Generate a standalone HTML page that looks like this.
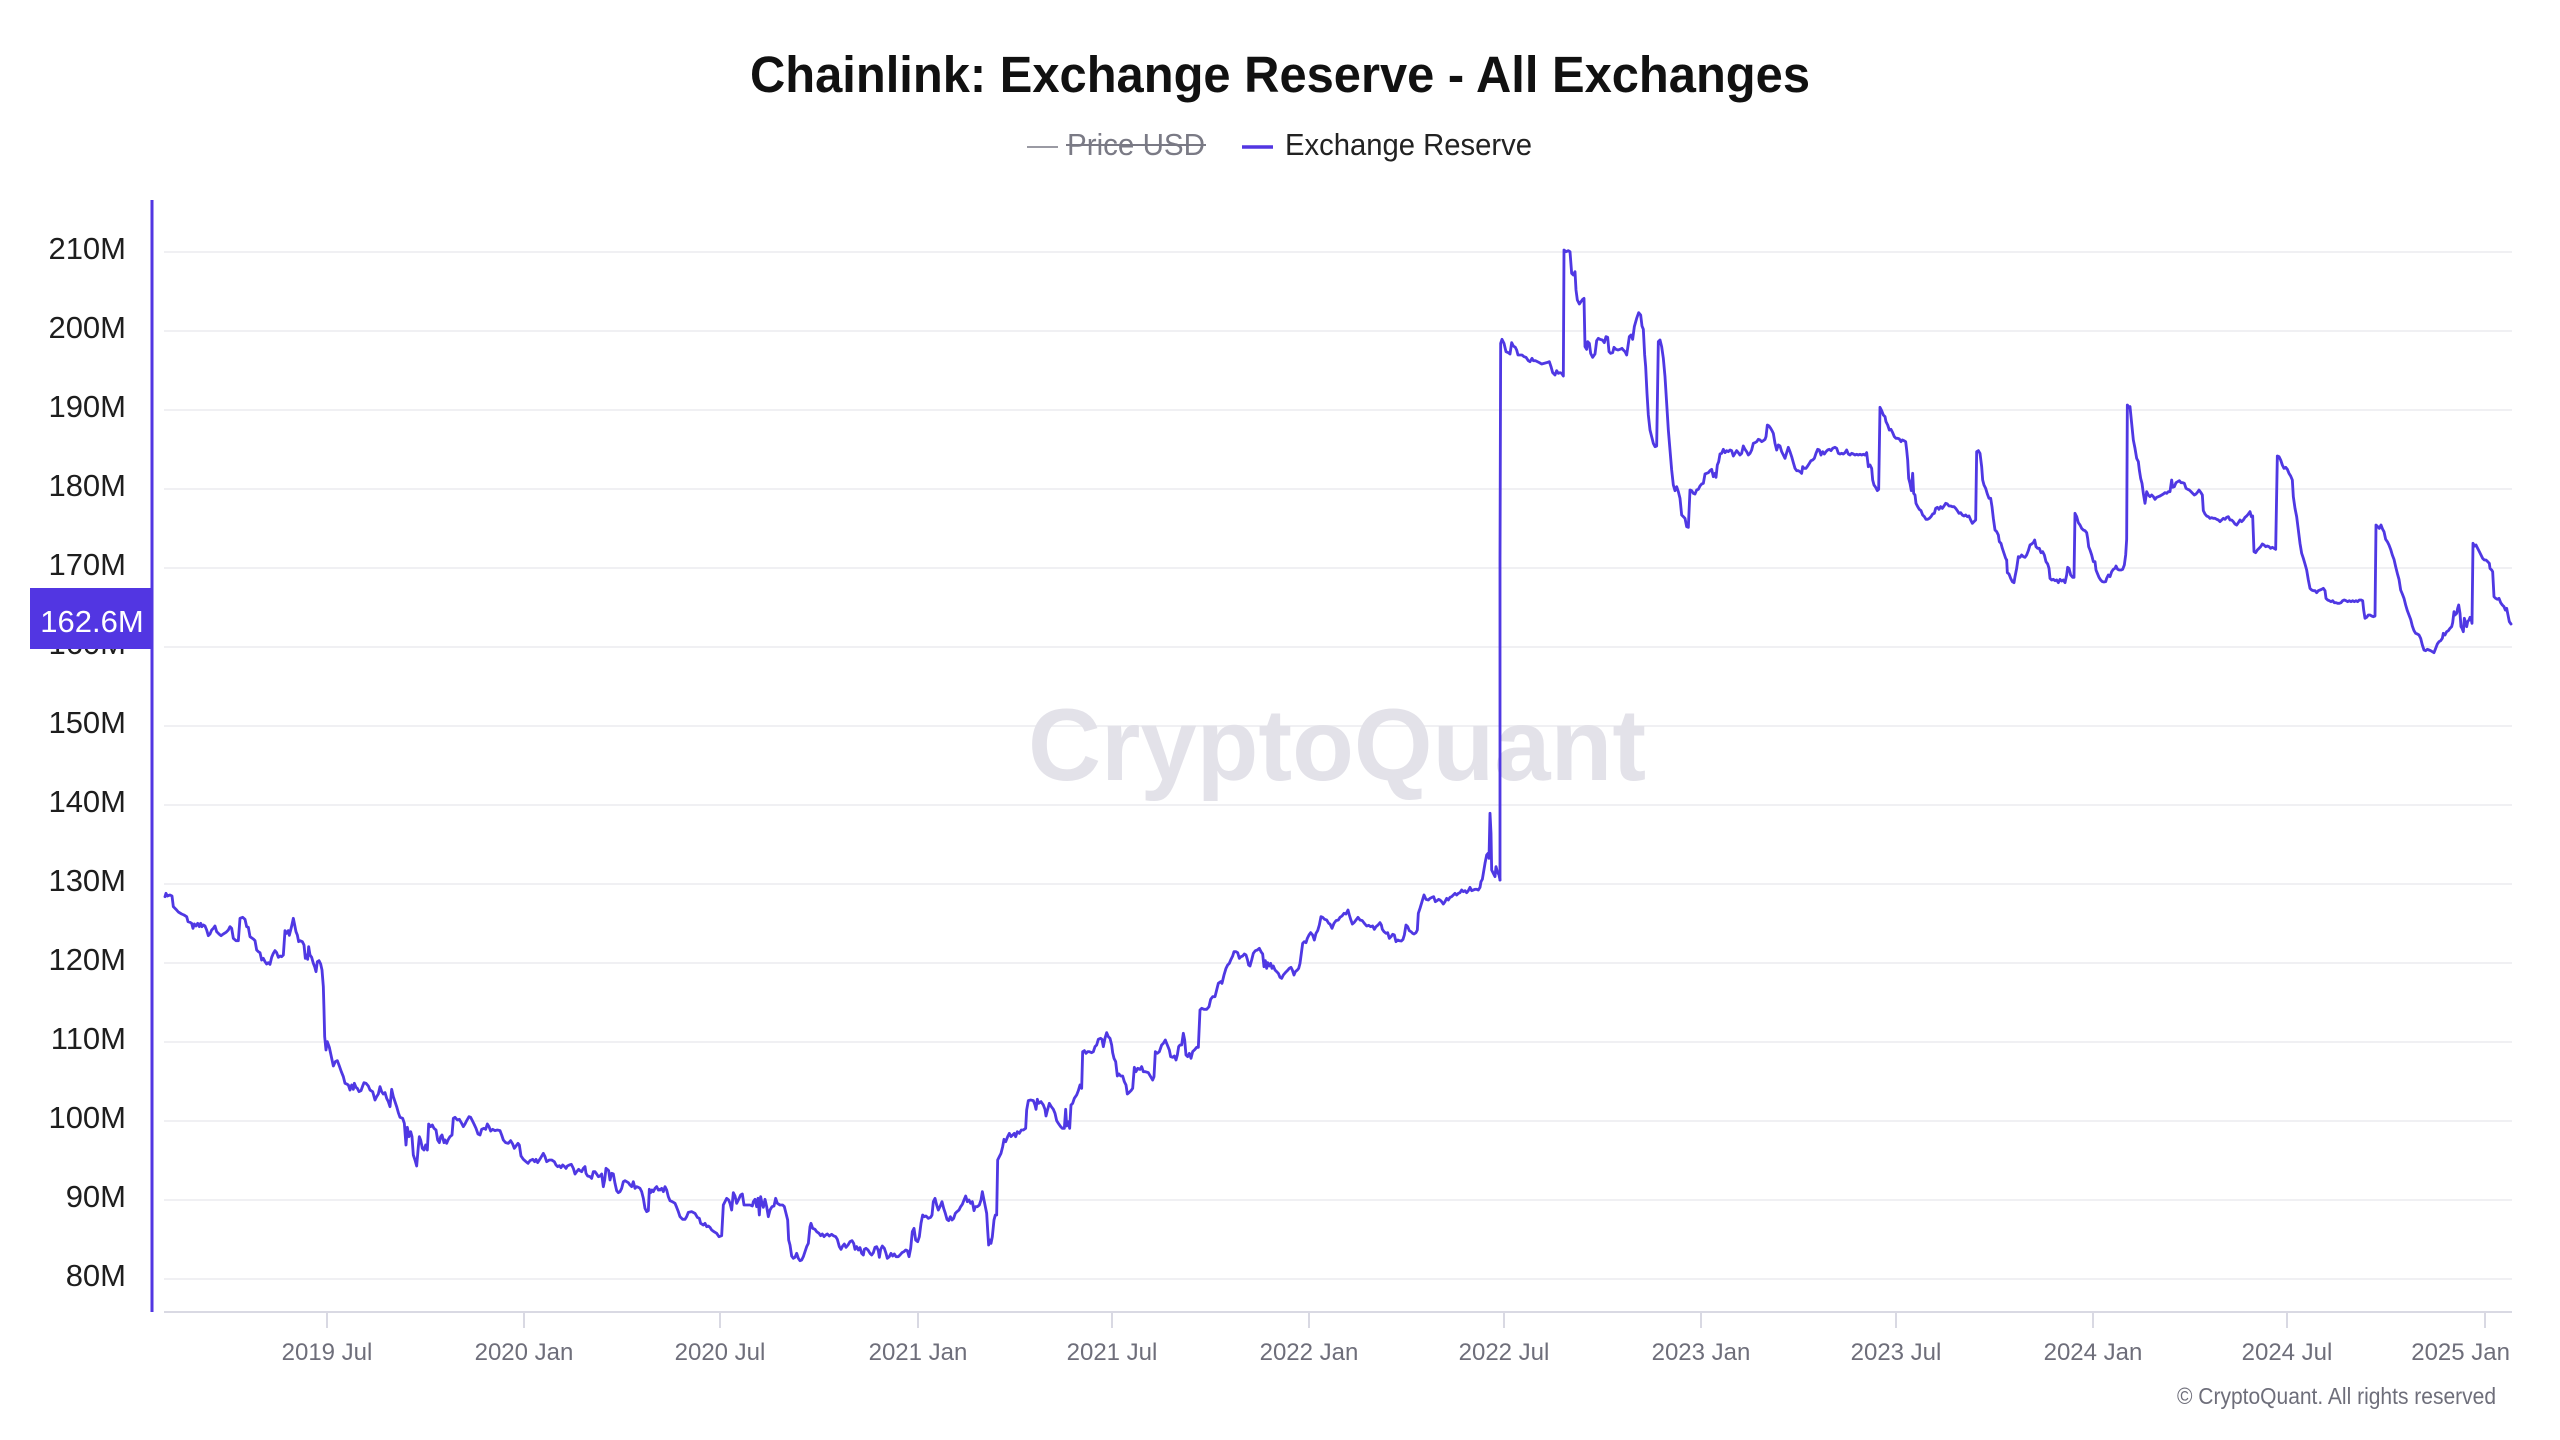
<!DOCTYPE html>
<html><head><meta charset="utf-8"><style>
html,body{margin:0;padding:0;background:#fff;}
svg{display:block;}
</style></head><body>
<svg width="2560" height="1440" viewBox="0 0 2560 1440" xmlns="http://www.w3.org/2000/svg" font-family="'Liberation Sans', 'DejaVu Sans', sans-serif">
<rect width="2560" height="1440" fill="#fff"/>
<!-- title -->
<text x="750" y="92" font-size="51" font-weight="bold" fill="#111" textLength="1060" lengthAdjust="spacingAndGlyphs">Chainlink: Exchange Reserve - All Exchanges</text>
<!-- legend -->
<line x1="1027" y1="147" x2="1058" y2="147" stroke="#9a9aa3" stroke-width="2"/>
<text x="1067" y="155" font-size="31" fill="#7a7a85" textLength="138" lengthAdjust="spacingAndGlyphs">Price USD</text>
<line x1="1066" y1="145" x2="1206" y2="145" stroke="#7a7a85" stroke-width="2"/>
<line x1="1242" y1="147" x2="1273" y2="147" stroke="#5236e2" stroke-width="3.5"/>
<text x="1285" y="155" font-size="31" fill="#222" textLength="247" lengthAdjust="spacingAndGlyphs">Exchange Reserve</text>
<!-- gridlines -->
<g stroke="#f0f0f3" stroke-width="2">
<line x1="164" y1="252" x2="2512" y2="252"/>
<line x1="164" y1="331" x2="2512" y2="331"/>
<line x1="164" y1="410" x2="2512" y2="410"/>
<line x1="164" y1="489" x2="2512" y2="489"/>
<line x1="164" y1="568" x2="2512" y2="568"/>
<line x1="164" y1="647" x2="2512" y2="647"/>
<line x1="164" y1="726" x2="2512" y2="726"/>
<line x1="164" y1="805" x2="2512" y2="805"/>
<line x1="164" y1="884" x2="2512" y2="884"/>
<line x1="164" y1="963" x2="2512" y2="963"/>
<line x1="164" y1="1042" x2="2512" y2="1042"/>
<line x1="164" y1="1121" x2="2512" y2="1121"/>
<line x1="164" y1="1200" x2="2512" y2="1200"/>
<line x1="164" y1="1279" x2="2512" y2="1279"/>
</g>
<!-- watermark -->
<text x="1028" y="780" font-size="102" font-weight="bold" fill="#e3e2e9" textLength="618" lengthAdjust="spacingAndGlyphs">CryptoQuant</text>
<!-- y labels -->
<g font-size="31" fill="#1e1e1e" text-anchor="end">
<text x="126" y="259">210M</text>
<text x="126" y="338">200M</text>
<text x="126" y="417">190M</text>
<text x="126" y="496">180M</text>
<text x="126" y="575">170M</text>
<text x="126" y="654">160M</text>
<text x="126" y="733">150M</text>
<text x="126" y="812">140M</text>
<text x="126" y="891">130M</text>
<text x="126" y="970">120M</text>
<text x="126" y="1049">110M</text>
<text x="126" y="1128">100M</text>
<text x="126" y="1207">90M</text>
<text x="126" y="1286">80M</text>
</g>
<!-- x axis -->
<line x1="164" y1="1312" x2="2512" y2="1312" stroke="#d9d9e3" stroke-width="2"/>
<g stroke="#d9d9e3" stroke-width="2">
<line x1="327" y1="1312" x2="327" y2="1328"/>
<line x1="524" y1="1312" x2="524" y2="1328"/>
<line x1="720" y1="1312" x2="720" y2="1328"/>
<line x1="918" y1="1312" x2="918" y2="1328"/>
<line x1="1112" y1="1312" x2="1112" y2="1328"/>
<line x1="1309" y1="1312" x2="1309" y2="1328"/>
<line x1="1504" y1="1312" x2="1504" y2="1328"/>
<line x1="1701" y1="1312" x2="1701" y2="1328"/>
<line x1="1896" y1="1312" x2="1896" y2="1328"/>
<line x1="2093" y1="1312" x2="2093" y2="1328"/>
<line x1="2287" y1="1312" x2="2287" y2="1328"/>
<line x1="2485" y1="1312" x2="2485" y2="1328"/>
</g>
<g font-size="24" fill="#6e6e7a" text-anchor="middle">
<text x="327" y="1360">2019 Jul</text>
<text x="524" y="1360">2020 Jan</text>
<text x="720" y="1360">2020 Jul</text>
<text x="918" y="1360">2021 Jan</text>
<text x="1112" y="1360">2021 Jul</text>
<text x="1309" y="1360">2022 Jan</text>
<text x="1504" y="1360">2022 Jul</text>
<text x="1701" y="1360">2023 Jan</text>
<text x="1896" y="1360">2023 Jul</text>
<text x="2093" y="1360">2024 Jan</text>
<text x="2287" y="1360">2024 Jul</text>
<text x="2510" y="1360" text-anchor="end">2025 Jan</text>
</g>
<text x="2177" y="1404" font-size="23" fill="#6e6e7a" textLength="319" lengthAdjust="spacingAndGlyphs">© CryptoQuant. All rights reserved</text>
<!-- series -->
<g fill="none" stroke="#4f38e3" stroke-width="8.5" stroke-linejoin="round" stroke-linecap="round">
<polyline transform="translate(160,870) scale(0.333333)" points="15,80 18,70 22,78 30,75 36,78 40,110 48,118 55,126 65,132 72,135 80,140 84,155 90,157 95,160 99,175 103,162 108,168 113,160 118,170 122,160 126,170 130,165 135,168 140,180 145,197 150,192 155,180 160,175 165,168 170,185 177,192 183,197 190,192 198,187 205,180 210,170 215,175 220,205 228,212 235,212 240,145 248,142 255,148 260,170 265,172 270,200 280,207 285,212 290,240 295,245 300,248 305,270 310,265 315,275 320,282 325,278 330,283 335,262 340,250 345,242 350,248 355,262 360,258 365,260 370,255 375,182 380,190 385,182 388,196 392,180 395,168 400,145 403,160 408,185 412,195 416,215 420,212 427,215 432,225 436,265 440,255 443,268 446,230 450,255 455,262 460,280 464,290 468,305 472,275 477,272 482,282 486,300 490,350 492,420 494,500 498,540 502,515 508,532 514,560 520,588 526,575 532,572 538,588 544,605 550,620 555,640 560,642 565,645 570,660 575,645 580,658 583,640 588,652 592,655 597,665 603,662 608,648 612,638 618,640 625,648 630,660 638,665 645,690 650,680 655,672 660,650 665,665 670,672 675,668 680,685 685,695 690,710 695,658 700,680 705,695 710,710 715,728 720,742 728,745 733,760 738,825 742,772 747,800 752,785 756,800 760,855 765,870 770,888 775,830 778,800 782,810 787,835 792,840 797,825 802,840 806,762 812,770 817,765 822,775 828,780 833,810 838,818 842,800 846,795 852,818 855,810 860,820 865,808 870,800 876,795 880,745 885,742 892,750 898,748 905,760 910,770 915,762 920,752 927,740 932,742 937,752 942,762 948,775 954,792 960,795 965,778 972,775 977,778 982,762 987,770 992,783 998,778 1005,782 1012,780 1020,782 1025,795 1030,810 1037,818 1045,820 1052,812 1058,822 1063,835 1068,828 1074,820 1078,825 1083,858 1090,868 1098,875 1104,880 1110,872 1118,868 1124,875 1128,868 1133,878 1138,870 1143,862 1150,850 1155,860 1160,875 1168,870 1175,870 1183,875 1188,885 1193,890 1198,887 1203,893 1208,885 1214,890 1218,895 1222,888 1228,885 1234,883 1240,895 1245,912 1250,905 1256,898 1260,902 1265,905 1270,895 1275,890 1278,910 1283,918 1290,920 1295,925 1300,905 1305,905 1310,912 1315,920 1320,918 1325,912 1330,950 1334,930 1338,895 1342,898 1346,902 1350,930 1355,910 1360,912 1365,940 1370,962 1375,968 1380,965 1385,955 1390,935 1395,932 1400,935 1405,938 1410,945 1415,950 1420,935 1425,955 1430,950 1435,952 1440,955 1445,965 1450,985 1455,1015 1460,1025 1465,1022 1468,958 1472,968 1476,960 1480,965 1485,955 1490,950 1495,960 1500,958"/>
<polyline transform="translate(640,870) scale(0.333333)" points="60,960 65,955 70,965 75,950 80,960 85,980 90,992 97,995 105,1000 110,1012 115,1025 120,1040 128,1048 135,1048 140,1040 145,1027 155,1025 165,1030 172,1042 178,1045 182,1060 190,1065 195,1060 200,1070 205,1068 210,1072 215,1080 222,1085 230,1090 237,1100 245,1097 250,1005 255,995 260,985 266,990 270,1000 275,1020 280,968 285,978 290,1000 295,990 302,975 307,972 312,1005 320,1005 330,1005 337,1008 340,995 345,988 350,1010 354,985 358,1035 362,980 366,1000 370,1012 375,988 380,1010 385,1040 390,1020 396,1010 402,1008 407,985 412,1000 420,1005 428,1005 433,1010 438,1030 443,1050 446,1110 450,1125 455,1158 460,1165 465,1162 470,1150 475,1165 480,1172 485,1170 490,1160 495,1145 500,1130 505,1120 510,1070 513,1060 518,1075 525,1078 530,1085 537,1090 542,1097 547,1092 552,1100 557,1095 562,1092 568,1098 575,1093 580,1097 587,1100 592,1108 598,1130 603,1138 608,1128 613,1122 618,1132 624,1125 630,1115 636,1112 641,1120 645,1138 650,1130 655,1140 660,1133 665,1150 670,1155 673,1138 678,1135 684,1140 690,1150 695,1155 700,1148 705,1132 710,1130 715,1142 718,1162 722,1138 727,1128 733,1135 738,1150 742,1165 748,1160 753,1150 758,1158 763,1152 768,1160 775,1160 780,1155 786,1148 792,1145 797,1140 802,1142 807,1160 812,1135 817,1085 822,1075 827,1110 833,1115 838,1100 843,1060 848,1035 853,1040 858,1038 865,1045 872,1042 876,1035 880,995 885,985 890,1005 895,1020 900,1010 906,995 911,1015 916,1030 921,1048 926,1052 931,1040 936,1050 941,1045 946,1030 951,1025 957,1020 962,1010 967,1003 972,990 977,978 982,995 987,990 992,1000 997,995 1002,1022 1006,1010 1012,1010 1018,1005 1023,990 1027,965 1032,990 1035,1005 1040,1030 1043,1080 1046,1125 1050,1110 1053,1120 1057,1100 1062,1050 1066,1035 1070,1035 1073,870 1078,860 1083,850 1088,830 1092,808 1097,815 1103,800 1108,790 1113,800 1118,795 1123,790 1127,800 1132,785 1138,790 1144,780 1150,780 1157,775 1160,720 1165,692 1172,690 1180,692 1185,705 1188,718 1192,688 1196,700 1203,695 1210,705 1215,718 1218,738 1222,722 1228,700 1234,710 1240,718 1245,730 1250,752 1255,760 1262,770 1267,775 1273,775 1277,718 1280,768 1285,755 1289,775 1293,705 1298,700 1303,685 1310,675 1315,662 1320,645 1325,655 1328,545 1333,542 1338,550 1343,545 1348,545 1355,548 1360,545 1365,530 1370,525 1375,508 1382,505 1386,508 1390,530 1395,505 1400,488 1405,500 1410,505 1415,525 1418,548 1422,565 1427,575 1432,618 1437,612 1442,618 1448,618 1453,635 1458,645 1462,672 1467,668 1473,662 1478,655 1483,592 1488,605 1493,595 1500,598"/>
<polyline transform="translate(1130,800) scale(0.333333)" points="30,808 35,800 40,815 45,815 55,818 62,830 68,840 72,830 76,755 82,760 88,755 95,735 100,730 106,720 112,735 118,750 122,770 128,772 133,768 138,780 142,765 146,740 150,735 155,735 160,700 164,720 168,765 173,770 178,760 183,775 188,755 195,748 200,742 205,742 210,630 215,625 222,628 230,628 237,620 242,598 248,590 255,590 260,570 265,550 272,545 276,550 282,525 288,505 293,495 298,490 303,478 308,468 312,455 318,455 323,458 328,475 333,470 338,468 343,462 348,465 352,478 356,495 360,498 365,480 370,460 376,452 382,450 388,445 393,455 398,462 402,500 406,482 410,505 413,488 418,498 422,490 426,505 430,498 435,510 440,515 445,520 450,532 455,535 460,525 466,518 472,512 478,505 483,502 487,510 492,525 496,515 502,510 506,505 510,490 514,460 518,430 523,425 528,428 532,415 537,405 542,398 548,405 553,420 558,400 563,392 568,375 573,350 578,352 584,358 590,360 596,370 600,372 606,385 612,370 618,362 625,360 630,352 636,348 642,340 648,342 654,330 658,345 662,358 667,372 672,368 678,360 684,352 690,360 697,362 703,370 710,378 716,376 722,380 728,378 733,388 738,380 744,375 750,368 754,375 757,388 762,395 768,400 773,398 778,415 783,410 788,403 793,405 798,425 803,420 808,422 814,423 819,418 823,405 828,375 833,380 838,392 843,395 848,400 852,402 858,398 862,390 865,340 870,325 876,305 882,285 888,298 895,300 900,295 906,292 911,290 916,305 921,302 926,298 930,300 935,305 940,312 945,305 950,295 955,300 960,292 965,290 970,285 975,280 980,285 985,280 990,278 995,270 1000,275 1005,272 1010,278 1015,272 1020,262 1025,272 1030,270 1035,268 1040,268 1045,270 1050,262 1053,245 1057,238 1060,220 1065,190 1070,165 1074,160 1077,175 1080,40 1083,100 1085,210 1090,220 1095,230 1098,200 1102,215 1107,225 1110,240"/>
<polyline transform="translate(1490,240) scale(0.333333)" points="30,1920 30,960 32,310 36,298 42,310 48,335 55,338 60,342 65,308 70,318 76,322 80,330 84,345 90,345 96,345 102,350 108,352 115,362 120,365 126,355 130,362 136,362 142,365 148,368 155,372 162,370 170,368 178,365 183,380 188,398 195,405 200,392 205,400 210,398 215,400 220,408 222,30 228,35 235,32 240,35 245,100 250,105 255,95 258,150 262,180 268,192 273,185 278,178 282,175 285,320 290,328 293,305 298,310 302,340 308,352 315,342 320,302 325,295 330,298 337,300 343,308 348,290 353,292 357,335 362,340 368,338 372,322 378,328 384,330 390,328 396,325 400,330 405,335 410,345 413,325 418,290 423,285 428,298 433,260 440,235 446,218 452,225 456,258 460,268 464,345 467,380 471,460 475,525 480,570 485,590 490,610 495,620 500,618 505,305 510,300 515,320 520,355 525,410 530,490 535,570 540,630 545,690 550,735 555,752 560,740 565,755 570,775 575,825 580,830 585,835 590,860 595,862 600,750 605,752 610,760 615,762 620,750 625,748 630,738 635,732 640,730 645,702 650,700 655,698 660,692 665,688 670,710 675,700 678,712 682,675 686,665 690,642 695,640 700,628 705,638 710,632 715,635 720,630 725,632 730,648 735,640 740,632 745,638 750,645 755,640 760,618 765,628 770,635 775,645 780,640 785,630 790,610 795,608 800,605 805,598 810,600 815,605 820,602 825,598 828,590 832,555 837,558 842,565 846,572 850,580 855,610 860,630 865,615 870,618 875,635 880,645 885,655 890,638 895,622 900,635 905,650 910,668 915,685 920,692 925,692 930,695 935,700 938,680 942,685 948,685 953,678 958,670 963,662 968,660 973,655 978,640 983,628 988,630 993,645 998,635 1003,642 1008,635 1013,630 1018,628 1023,632 1028,625 1035,622 1040,625 1045,640 1050,642 1055,640 1060,642 1065,638 1070,630 1075,642 1080,645 1085,640 1090,642 1095,645 1100,643 1105,645 1110,643 1115,645 1120,643 1125,645 1130,638 1135,680 1140,675 1145,685 1148,720 1152,735 1157,742 1162,752 1166,748 1170,502 1175,512 1180,525 1185,530 1188,545 1193,555 1198,570 1203,568 1208,578 1213,590 1218,595 1223,595 1228,597 1233,605 1237,600 1242,602 1247,605 1250,630 1253,660 1256,715 1260,730 1264,752 1268,700 1271,760 1275,765 1278,790 1283,800 1288,808 1293,812 1298,825 1303,830 1308,838 1313,838 1318,835 1323,830 1328,822 1333,820 1337,805 1342,802 1347,808 1352,800 1357,805 1362,798 1367,790 1372,792 1377,798 1382,798 1387,800 1392,800 1397,805 1402,812 1407,820 1412,818 1417,825 1422,828 1427,825 1432,830 1437,828 1442,840 1447,850 1452,845 1457,840 1460,635 1465,632 1470,640 1475,680 1478,720 1482,735 1487,745 1492,762 1497,775 1502,775 1506,800 1510,835 1515,870 1520,875 1525,885 1528,905 1533,910 1537,925 1542,940 1547,955 1550,960"/>
<polyline transform="translate(2000,380) scale(0.333333)" points="20,540 22,578 27,582 32,595 37,605 42,608 45,590 50,565 55,530 60,532 65,525 70,530 75,532 80,525 85,512 90,495 95,492 100,488 104,480 108,500 113,505 118,505 123,518 128,515 133,525 138,545 143,552 147,565 150,595 155,600 160,598 165,602 170,600 175,608 180,598 185,603 190,600 195,608 200,585 203,562 207,565 212,585 218,592 222,592 225,400 230,410 235,428 240,435 245,445 250,450 255,452 260,458 263,475 266,500 270,510 275,525 280,545 285,545 288,570 292,580 297,592 302,600 307,605 312,606 317,605 320,595 325,585 330,590 335,575 340,568 345,565 348,558 353,568 358,570 363,570 368,568 373,555 377,525 380,478 382,75 387,82 390,80 395,130 400,180 405,205 410,235 415,245 418,270 422,295 426,310 430,340 435,370 440,335 445,345 450,350 455,345 460,350 465,358 470,352 475,350 480,348 485,345 490,342 495,338 500,340 505,335 510,335 515,300 518,322 523,320 528,308 533,305 538,302 543,308 548,308 553,310 558,325 563,328 568,330 573,335 578,340 583,345 588,342 593,336 597,330 603,338 607,345 610,392 615,402 620,408 625,410 630,415 635,413 640,415 645,415 650,418 655,420 660,425 665,420 670,415 675,418 680,412 685,410 690,420 695,420 700,425 705,432 710,435 715,428 720,420 725,425 730,420 735,412 740,408 745,402 750,395 754,410 758,408 762,515 767,518 772,510 777,505 782,500 787,492 792,495 797,500 802,498 807,500 812,505 817,502 822,505 827,508 832,228 837,230 842,240 847,255 852,265 857,262 862,268 867,280 872,288 877,300 880,350 885,385 890,410 895,450 900,490 905,520 910,535 915,552 920,570 925,600 930,625 935,630 940,632 945,632 950,638 955,632 960,630 965,628 970,625 975,632 978,655 983,660 988,662 993,665 998,662 1003,668 1008,668 1013,670 1018,670 1023,668 1028,662 1033,660 1038,662 1043,665 1048,662 1053,665 1058,662 1063,665 1068,662 1073,665 1078,660 1083,660 1088,662 1091,690 1095,715 1100,712 1105,705 1110,705 1115,708 1120,710 1125,708 1128,435 1133,440 1138,445 1143,435 1148,448 1152,455 1157,478 1162,485 1167,495 1172,508 1177,525 1182,538 1187,560 1192,580 1197,598 1202,630 1207,642 1212,655 1217,675 1222,692 1227,705 1232,718 1237,738 1242,752 1247,760 1252,762 1257,765 1262,775 1267,795 1272,810 1277,812 1282,808 1287,810 1292,812 1297,815 1302,818 1307,805 1312,792 1317,785 1322,782 1327,775 1330,760 1335,765 1340,755 1345,752 1350,745 1355,740 1358,728 1362,695 1365,705 1370,700 1373,685 1376,675 1380,700 1383,740 1386,745 1390,755 1393,715 1397,728 1400,740 1403,725 1407,720 1410,712 1413,715 1416,730 1419,490 1424,498 1428,495 1433,505 1438,515 1443,525 1448,535 1453,540 1458,540 1463,545 1468,550 1470,565 1475,570 1478,575 1482,650 1487,655 1492,658 1497,655 1502,668 1507,675 1512,680 1516,690 1520,685 1524,705 1528,725 1533,732"/>
</g>
<!-- y axis line -->
<line x1="152" y1="200" x2="152" y2="1312" stroke="#5236e2" stroke-width="3"/>
<!-- current value badge -->
<rect x="30" y="588" width="122" height="61" fill="#5236e2"/>
<text x="92" y="632" font-size="31" fill="#fff" text-anchor="middle">162.6M</text>
</svg>
</body></html>
